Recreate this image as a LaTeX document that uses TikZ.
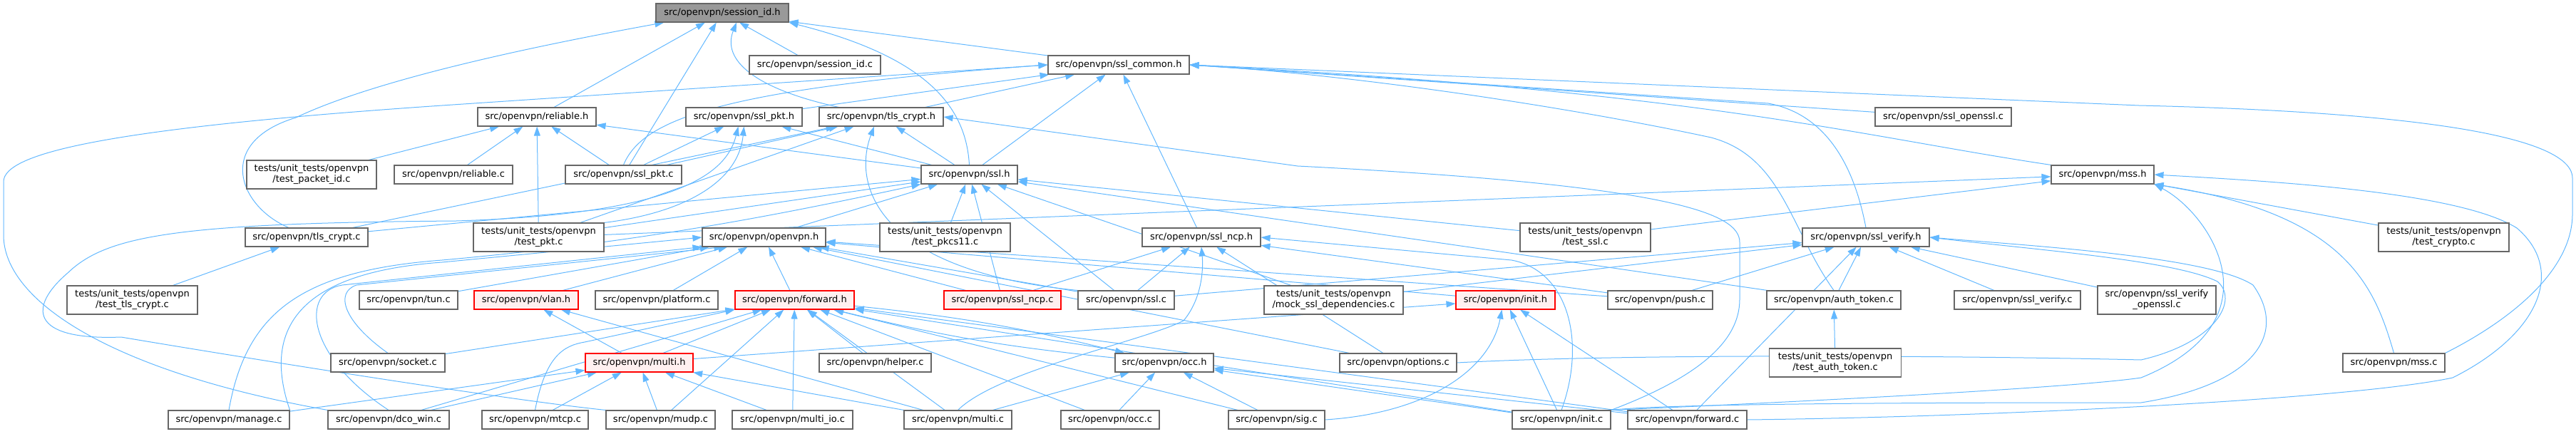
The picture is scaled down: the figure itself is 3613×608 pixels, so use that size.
\documentclass[tikz,border=0pt]{standalone}
\usepackage{fontspec}
\setmainfont{DejaVu Sans}
\usetikzlibrary{arrows.meta}
\definecolor{edgeblue}{HTML}{63B8FF}
\definecolor{boxgray}{HTML}{666666}
\definecolor{rootfill}{HTML}{999999}
\definecolor{redfill}{HTML}{FFF0F0}
\pgfdeclarelayer{bg}
\pgfsetlayers{bg,main}
\begin{document}
\begin{tikzpicture}[x=1pt,y=-1pt,
  box/.style={draw=boxgray, fill=white, line width=1.1pt, inner sep=0pt, minimum height=26pt, align=center, font=\fontsize{13}{15}\selectfont},
  two/.style={minimum height=40pt},
  hot/.style={draw=red, fill=redfill},
  root/.style={fill=rootfill},
  conn/.style={draw=edgeblue, line width=1pt, -{Triangle[length=13pt,width=9pt]}},
]
\useasboundingbox (0,0) rectangle (3613,608);
% row 0
\node[box,root,minimum width=186pt] (sidh) at (1013,18) {src/openvpn/session\_id.h};
% row 1
\node[box,minimum width=184pt] (sidc) at (1143,91) {src/openvpn/session\_id.c};
\node[box,minimum width=198pt] (sslcommon) at (1569,91) {src/openvpn/ssl\_common.h};
% row 2
\node[box,minimum width=166pt] (relh) at (753,164) {src/openvpn/reliable.h};
\node[box,minimum width=163pt] (sslpkth) at (1043.5,164) {src/openvpn/ssl\_pkt.h};
\node[box,minimum width=174pt] (tlscrypth) at (1236,164) {src/openvpn/tls\_crypt.h};
\node[box,minimum width=191pt] (sslopensslc) at (2725.5,164) {src/openvpn/ssl\_openssl.c};
% row 3
\node[box,two,minimum width=182pt] (testpacketid) at (437,245) {tests/unit\_tests/openvpn\\/test\_packet\_id.c};
\node[box,minimum width=166pt] (relc) at (636,245) {src/openvpn/reliable.c};
\node[box,minimum width=163pt] (sslpktc) at (874.5,245) {src/openvpn/ssl\_pkt.c};
\node[box,minimum width=135pt] (sslh) at (1359.5,245) {src/openvpn/ssl.h};
\node[box,minimum width=144pt] (mssh) at (2949,245) {src/openvpn/mss.h};
% row 4
\node[box,minimum width=172pt] (tlscryptc) at (430,333) {src/openvpn/tls\_crypt.c};
\node[box,two,minimum width=183pt] (testpkt) at (755.5,333) {tests/unit\_tests/openvpn\\/test\_pkt.c};
\node[box,minimum width=173pt] (openvpnh) at (1071.5,333) {src/openvpn/openvpn.h};
\node[box,two,minimum width=183pt] (testpkcs11) at (1325.5,333) {tests/unit\_tests/openvpn\\/test\_pkcs11.c};
\node[box,minimum width=166pt] (sslncph) at (1685,333) {src/openvpn/ssl\_ncp.h};
\node[box,two,minimum width=183pt] (testssl) at (2223.5,333) {tests/unit\_tests/openvpn\\/test\_ssl.c};
\node[box,minimum width=178pt] (sslverifyh) at (2617,333) {src/openvpn/ssl\_verify.h};
\node[box,two,minimum width=183pt] (testcrypto) at (3427.5,333) {tests/unit\_tests/openvpn\\/test\_crypto.c};
% row 5
\node[box,two,minimum width=183pt] (testtlscrypt) at (185.5,421) {tests/unit\_tests/openvpn\\/test\_tls\_crypt.c};
\node[box,minimum width=138pt] (tunc) at (573,421) {src/openvpn/tun.c};
\node[box,hot,minimum width=146pt] (vlanh) at (738,421) {src/openvpn/vlan.h};
\node[box,minimum width=172pt] (platformc) at (921,421) {src/openvpn/platform.c};
\node[box,hot,minimum width=167pt] (forwardh) at (1114.5,421) {src/openvpn/forward.h};
\node[box,hot,minimum width=164pt] (sslncpc) at (1406,421) {src/openvpn/ssl\_ncp.c};
\node[box,minimum width=135pt] (sslc) at (1579.5,421) {src/openvpn/ssl.c};
\node[box,two,minimum width=195pt] (mock) at (1870.5,421) {tests/unit\_tests/openvpn\\/mock\_ssl\_dependencies.c};
\node[box,hot,minimum width=139pt] (inith) at (2111.5,421) {src/openvpn/init.h};
\node[box,minimum width=147pt] (pushc) at (2328.5,421) {src/openvpn/push.c};
\node[box,minimum width=188pt] (authtokenc) at (2572,421) {src/openvpn/auth\_token.c};
\node[box,minimum width=177pt] (sslverifyc) at (2829.5,421) {src/openvpn/ssl\_verify.c};
\node[box,two,minimum width=166pt] (sslverifyopenssl) at (3025,421) {src/openvpn/ssl\_verify\\\_openssl.c};
% row 6
\node[box,minimum width=160pt] (socketc) at (544,509) {src/openvpn/socket.c};
\node[box,hot,minimum width=151pt] (multih) at (896.5,509) {src/openvpn/multi.h};
\node[box,minimum width=157pt] (helperc) at (1227.5,509) {src/openvpn/helper.c};
\node[box,minimum width=138pt] (occh) at (1633,509) {src/openvpn/occ.h};
\node[box,minimum width=164pt] (optionsc) at (1961,509) {src/openvpn/options.c};
\node[box,two,minimum width=185pt] (testauthtoken) at (2574,509) {tests/unit\_tests/openvpn\\/test\_auth\_token.c};
\node[box,minimum width=143pt] (mssc) at (3357.5,509) {src/openvpn/mss.c};
% row 7
\node[box,minimum width=170pt] (managec) at (321,589) {src/openvpn/manage.c};
\node[box,minimum width=170pt] (dcowinc) at (545,589) {src/openvpn/dco\_win.c};
\node[box,minimum width=149pt] (mtcpc) at (750.5,589) {src/openvpn/mtcp.c};
\node[box,minimum width=153pt] (mudpc) at (926.5,589) {src/openvpn/mudp.c};
\node[box,minimum width=169pt] (multiioc) at (1111.5,589) {src/openvpn/multi\_io.c};
\node[box,minimum width=151pt] (multic) at (1343.5,589) {src/openvpn/multi.c};
\node[box,minimum width=138pt] (occc) at (1557,589) {src/openvpn/occ.c};
\node[box,minimum width=135pt] (sigc) at (1790.5,589) {src/openvpn/sig.c};
\node[box,minimum width=138pt] (initc) at (2190,589) {src/openvpn/init.c};
\node[box,minimum width=167pt] (forwardc) at (2366.5,589) {src/openvpn/forward.c};

\begin{pgfonlayer}{bg}
% session_id.h
\draw[conn] (relh) -- (sidh);
\draw[conn] (sidc) -- (sidh);
\draw[conn] (sslcommon) -- (sidh);
\draw[conn] ([xshift=28pt]tlscrypth.north west) .. controls (1060,125) and (1012,85) .. ([xshift=20pt]sidh.south);
\draw[conn] (sslh.north) .. controls (1355,150) and (1300,80) .. (sidh.south east);
\draw[conn] (sslpktc) -- (sidh);
\draw[conn] ([xshift=-25pt]tlscryptc.north) .. controls (335,290) and (300,200) .. (415,165) .. controls (520,115) and (720,70) .. ([xshift=12pt]sidh.south west);
% ssl_common.h
\draw[conn] (sslpkth) -- (sslcommon);
\draw[conn] (tlscrypth) -- (sslcommon);
\draw[conn] (sslh) -- (sslcommon);
\draw[conn] (sslncph) -- (sslcommon);
\draw[conn] (sslpktc.north) .. controls (900,170) and (1000,125) .. (sslcommon.west);
\draw[conn] (dcowinc.north west) .. controls (150,520) and (5,420) .. (5,330) -- (5,255) .. controls (5,215) and (150,180) .. (620,148) -- (sslcommon.west);
\draw[conn] (sslopensslc) -- (sslcommon.east);
\draw[conn] (mssh.north west) .. controls (2600,190) and (2400,130) .. (sslcommon.east);
\draw[conn] (sslverifyh.north) .. controls (2600,230) and (2560,160) .. (2480,145) -- (sslcommon.east);
\draw[conn] (authtokenc.north) .. controls (2510,320) and (2500,220) .. (2400,193) .. controls (2200,150) and (1900,105) .. (sslcommon.east);
\draw[conn] (mssc.north east) .. controls (3520,450) and (3608,380) .. (3608,300) -- (3608,250) .. controls (3608,180) and (3300,155) .. (3000,148) -- (sslcommon.east);
% reliable.h
\draw[conn] (testpacketid) -- (relh);
\draw[conn] (relc) -- (relh);
\draw[conn] (sslpktc) -- (relh);
\draw[conn] (testpkt) -- (relh);
\draw[conn] (sslh) -- (relh);
% ssl_pkt.h
\draw[conn] (sslpktc) -- (sslpkth);
\draw[conn] (sslh) -- (sslpkth);
\draw[conn] (testpkt.north east) .. controls (950,300) and (1035,260) .. (sslpkth.south);
\draw[conn] (mudpc.north west) .. controls (700,560) and (300,495) .. (170,473) .. controls (40,478) and (40,430) .. (95,383) .. controls (150,330) and (250,313) .. (640,310) .. controls (960,300) and (1020,240) .. ([xshift=-8pt]sslpkth.south);
% tls_crypt.h
\draw[conn] (sslpktc) -- (tlscrypth);
\draw[conn] (sslh) -- (tlscrypth);
\draw[conn] (tlscryptc) -- (tlscrypth);
\draw[conn] (testpkt) -- (tlscrypth);
\draw[conn] (sslc.north west) .. controls (1230,380) and (1195,260) .. ([xshift=-10pt]tlscrypth.south);
\draw[conn] (initc.north east) .. controls (2380,530) and (2440,480) .. (2440,420) -- (2440,340) .. controls (2440,300) and (2350,260) .. (1820,233) -- (tlscrypth.east);
% ssl.h
\draw[conn] (tlscryptc) -- (sslh);
\draw[conn] (testpkt) -- (sslh);
\draw[conn] (openvpnh) -- (sslh);
\draw[conn] (testpkcs11) -- (sslh);
\draw[conn] (sslc) -- (sslh);
\draw[conn] (sslncpc) -- (sslh);
\draw[conn] (testssl) -- (sslh);
\draw[conn] (mock) -- (sslh);
\draw[conn] (authtokenc) -- (sslh);
\draw[conn] (managec.north) .. controls (345,440) and (420,380) .. (620,365) .. controls (900,340) and (1100,300) .. (sslh.south west);
% openvpn.h
\draw[conn] (tunc) -- (openvpnh);
\draw[conn] (dcowinc.north) .. controls (430,500) and (420,410) .. (480,400) -- (openvpnh.south west);
\draw[conn] (socketc.north) .. controls (480,450) and (470,410) .. (500,400) -- ([xshift=30pt]openvpnh.south west);
\draw[conn] (managec.north east) .. controls (360,440) and (450,380) .. (620,368) -- (openvpnh.west);
\draw[conn] (vlanh) -- (openvpnh);
\draw[conn] (platformc) -- (openvpnh);
\draw[conn] (forwardh) -- (openvpnh);
\draw[conn] (inith) -- (openvpnh);
\draw[conn] (sslncpc) -- (openvpnh);
\draw[conn] (sslc) -- (openvpnh);
\draw[conn] (pushc) -- (openvpnh);
\draw[conn] (optionsc) -- (openvpnh);
% forward.h
\draw[conn] (socketc) -- (forwardh);
\draw[conn] (dcowinc) -- (forwardh);
\draw[conn] (mtcpc.north) .. controls (765,500) and (790,485) .. (820,480) -- (forwardh.south west);
\draw[conn] (multih) -- (forwardh);
\draw[conn] (mudpc) -- (forwardh);
\draw[conn] (multiioc) -- (forwardh);
\draw[conn] (helperc) -- (forwardh);
\draw[conn] (multic) -- (forwardh);
\draw[conn] (occh) to[bend left=4] (forwardh);
\draw[conn] (occc) -- (forwardh);
\draw[conn] (sigc) -- (forwardh);
\draw[conn] (initc) -- (forwardh);
\draw[conn] (forwardc) -- (forwardh);
% occ.h
\draw[conn] (forwardh) to[bend left=4] (occh);
\draw[conn] (occc) -- (occh);
\draw[conn] (sigc) -- (occh);
\draw[conn] (initc) -- (occh);
\draw[conn] (forwardc) -- (occh);
\draw[conn] (multic) -- (occh);
% multi.h
\draw[conn] (managec) -- (multih);
\draw[conn] (dcowinc) -- (multih);
\draw[conn] (mtcpc) -- (multih);
\draw[conn] (mudpc) -- (multih);
\draw[conn] (multiioc) -- (multih);
\draw[conn] (multic) -- (multih);
\draw[conn] (multih) -- (inith);
% vlan.h
\draw[conn] (multih) -- (vlanh);
\draw[conn] (multic) -- (vlanh);
% init.h
\draw[conn] (sigc.east) .. controls (2000,580) and (2090,520) .. ([xshift=-5pt]inith.south);
\draw[conn] (initc) -- (inith);
\draw[conn] (forwardc) -- (inith);
% ssl_ncp.h
\draw[conn] (sslncpc) -- (sslncph);
\draw[conn] (sslc) -- (sslncph);
\draw[conn] (multic.north) .. controls (1400,520) and (1600,480) .. (1660,450) .. controls (1685,420) and (1688,380) .. (sslncph.south);
\draw[conn] (optionsc) -- (sslncph);
\draw[conn] (pushc) -- (sslncph);
\draw[conn] (initc.north) .. controls (2225,480) and (2200,380) .. (2120,365) -- (sslncph.east);
% ssl_verify.h
\draw[conn] (mock) -- (sslverifyh);
\draw[conn] (sslc) -- (sslverifyh);
\draw[conn] (pushc) -- (sslverifyh);
\draw[conn] (authtokenc) -- (sslverifyh);
\draw[conn] (sslverifyc) -- (sslverifyh);
\draw[conn] (sslverifyopenssl) -- (sslverifyh);
\draw[conn] (forwardc) -- (sslverifyh);
\draw[conn] (optionsc.east) .. controls (2300,495) and (2800,500) .. (3003,505) .. controls (3110,480) and (3140,420) .. (3110,395) .. controls (3050,365) and (2850,350) .. (sslverifyh.east);
\draw[conn] (initc.north east) .. controls (2350,565) and (2800,565) .. (3003,565) .. controls (3160,540) and (3210,470) .. (3160,400) .. controls (3100,360) and (2850,345) .. (sslverifyh.east);
% mss.h
\draw[conn] (mssc.north) .. controls (3330,400) and (3290,300) .. (mssh.south east);
\draw[conn] (testcrypto) -- (mssh);
\draw[conn] (testssl) -- (mssh);
\draw[conn] (testpkt) -- (mssh);
\draw[conn] (initc.north east) .. controls (2500,565) and (2900,545) .. (3003,530) .. controls (3200,450) and (3100,300) .. (mssh.south east);
\draw[conn] (forwardc.east) .. controls (2800,585) and (3300,560) .. (3440,530) .. controls (3560,470) and (3600,380) .. (3530,320) .. controls (3450,270) and (3200,255) .. (mssh.east);
% others
\draw[conn] (testtlscrypt) -- (tlscryptc);
\draw[conn] (testauthtoken) -- (authtokenc);
\end{pgfonlayer}
\end{tikzpicture}
\end{document}
